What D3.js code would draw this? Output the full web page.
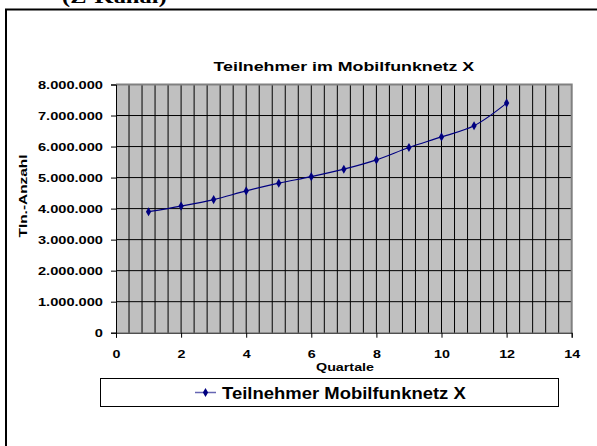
<!DOCTYPE html>
<html>
<head>
<meta charset="utf-8">
<script src="https://cdn.jsdelivr.net/npm/d3@7"></script>
<style>
  body { margin: 0; background: #fff; }
  svg { display: block; }
</style>
</head>
<body>
<div class="content-container"></div>
<script>
    // data
    const quartale = [1, 2, 3, 4, 5, 6, 7, 8, 9, 10, 11, 12];
    const teilnehmer = [3900000, 4080000, 4290000, 4570000, 4820000, 5030000, 5270000, 5570000, 5970000, 6310000, 6670000, 7400000];
    const xTicks = [0, 2, 4, 6, 8, 10, 12, 14];
    const yTicks = [0, 1000000, 2000000, 3000000, 4000000, 5000000, 6000000, 7000000, 8000000];
    const seriesName = "Teilnehmer Mobilfunknetz X";
    const chartTitle = "Teilnehmer im Mobilfunknetz X";

    const width = 597;
    const height = 446;
    const padLeft = 116, padRight = 571.7, padTop = 84.5, padBottom = 332.7;

    const de = d3.formatLocale({decimal: ",", thousands: ".", grouping: [3], currency: ["", " €"]});
    const fmt = de.format(",d");

    const xScale = d3.scaleLinear().domain([0, 14]).range([padLeft, padRight]);
    const yScale = d3.scaleLinear().domain([0, 8000000]).range([padBottom, padTop]);

    const chart = d3.select(".content-container")
      .append("svg")
      .attr("width", width)
      .attr("height", height)
      .style("font-family", "'Liberation Sans', Arial, sans-serif");

    // text in the reference is drawn wider than normal, so stretch it
    function stext(x, y, str, size, anchor, sx, rot) {
      return chart.append("text")
        .attr("transform", "translate(" + x + "," + y + ")" + (rot ? " rotate(" + rot + ")" : "") + " scale(" + sx + ",1)")
        .attr("text-anchor", anchor)
        .attr("font-size", size + "px")
        .attr("font-weight", "bold")
        .text(str);
    }

    // heading above the frame, cut off by the page top as in the reference
    chart.append("text")
      .attr("transform", "translate(62,3) scale(1.36,1)")
      .attr("font-family", "'Liberation Serif', 'Times New Roman', serif")
      .attr("font-size", "18px")
      .attr("font-weight", "bold")
      .text("(Z-Kanal)");

    // outer frame
    chart.append("rect")
      .attr("x", 6).attr("y", 9.5)
      .attr("width", 700).attr("height", 600)
      .attr("fill", "none")
      .attr("stroke", "#000")
      .attr("stroke-width", 2);

    // PLOT AREA
    chart.append("rect")
      .attr("x", padLeft).attr("y", padTop)
      .attr("width", padRight - padLeft).attr("height", padBottom - padTop)
      .attr("fill", "#c0c0c0");

    // vertical grid every 0.4
    chart.append("g")
      .selectAll("line")
      .data(d3.range(0.4, 14, 0.4))
      .enter().append("line")
      .attr("x1", d => xScale(d)).attr("x2", d => xScale(d))
      .attr("y1", padTop).attr("y2", padBottom)
      .attr("stroke", "#000")
      .attr("stroke-width", 1);

    // horizontal grid
    chart.append("g")
      .selectAll("line")
      .data(yTicks.slice(1))
      .enter().append("line")
      .attr("x1", padLeft).attr("x2", padRight)
      .attr("y1", d => yScale(d)).attr("y2", d => yScale(d))
      .attr("stroke", "#000")
      .attr("stroke-width", 1);

    // gray border top/right
    chart.append("path")
      .attr("d", "M" + padLeft + "," + padTop + "H" + padRight + "V" + padBottom)
      .attr("fill", "none")
      .attr("stroke", "#808080")
      .attr("stroke-width", 2);

    // AXES
    const xAxis = d3.axisBottom(xScale).tickValues(xTicks).tickSize(5).tickPadding(12).tickFormat(d3.format("d"));
    const gx = chart.append("g")
      .attr("transform", "translate(0," + padBottom + ")")
      .call(xAxis);
    gx.select(".domain").attr("stroke", "#000");
    gx.selectAll("text")
      .attr("font-size", "11px").attr("font-weight", "bold").attr("fill", "#000")
      .attr("font-family", "'Liberation Sans', Arial, sans-serif")
      .attr("transform", "translate(0,17) scale(1.3,1)")
      .attr("y", 0);

    const yAxis = d3.axisLeft(yScale).tickValues(yTicks).tickSize(5).tickPadding(8).tickFormat(fmt);
    const gy = chart.append("g")
      .attr("transform", "translate(" + padLeft + ",0)")
      .call(yAxis);
    gy.select(".domain").attr("stroke", "#000");
    gy.selectAll("text")
      .attr("font-size", "11px").attr("font-weight", "bold").attr("fill", "#000")
      .attr("font-family", "'Liberation Sans', Arial, sans-serif")
      .attr("transform", "translate(-13,0) scale(1.33,1)")
      .attr("x", 0);

    // SERIES
    const line = d3.line()
      .x((d, i) => xScale(quartale[i]))
      .y(d => yScale(d))
      .curve(d3.curveCatmullRom.alpha(0.5));

    chart.append("path")
      .datum(teilnehmer)
      .attr("d", line)
      .attr("fill", "none")
      .attr("stroke", "#000080")
      .attr("stroke-width", 1.2);

    chart.append("g")
      .selectAll("path")
      .data(teilnehmer)
      .enter().append("path")
      .attr("d", d3.symbol().type(d3.symbolDiamond).size(24))
      .attr("transform", (d, i) => "translate(" + xScale(quartale[i]) + "," + yScale(d) + ")")
      .attr("fill", "#000080");

    // TITLES
    stext((padLeft + padRight) / 2, 71, chartTitle, 13, "middle", 1.37);
    stext(345, 371, "Quartale", 11, "middle", 1.3);
    stext(27, 196, "Tln.-Anzahl", 11, "middle", 1.4, -90);

    // LEGEND
    chart.append("rect")
      .attr("x", 100.5).attr("y", 378.5)
      .attr("width", 458).attr("height", 28)
      .attr("fill", "#fff")
      .attr("stroke", "#000")
      .attr("stroke-width", 1);

    chart.append("line")
      .attr("x1", 195).attr("x2", 216)
      .attr("y1", 392.5).attr("y2", 392.5)
      .attr("stroke", "#000080")
      .attr("stroke-opacity", 0.6)
      .attr("stroke-width", 1.5);

    chart.append("path")
      .attr("d", d3.symbol().type(d3.symbolDiamond).size(24))
      .attr("transform", "translate(205.5,392.5)")
      .attr("fill", "#000080");

    stext(222, 398.5, seriesName, 16.5, "start", 1.12);
</script>
</body>
</html>
